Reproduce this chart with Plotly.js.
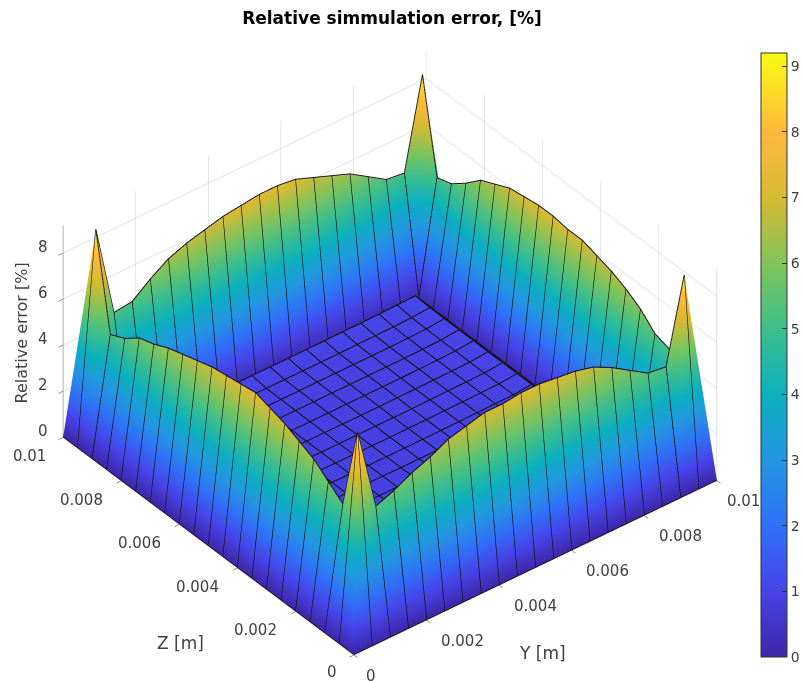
<!DOCTYPE html>
<html><head><meta charset="utf-8">
<script src="https://cdn.plot.ly/plotly-3.0.1.min.js"></script>
<style>html,body{margin:0;padding:0;background:#fff}#c{width:803px;height:681px}</style>
</head><body><div id="c"></div>
<script>
const gridY=[0,0.0005,0.001,0.0015,0.002,0.0025,0.003,0.0035,0.004,0.0045,0.005,0.0055,0.006,0.0065,0.007,0.0075,0.008,0.0085,0.009,0.0095,0.01];
const gridZ=gridY.slice();
const peakFront=8.8, peakRight=8.8, peakBack=9.0, peakLeft=9.1;
const ridgeFrontRight=[5.2,5.5,5.9,6.2,6.6,6.8,7.0,7.0,7.1,7.1,7.0,6.9,6.7,6.3,5.8,5.3,5.2];
const ridgeBackRight=[5.1,5.3,5.9,6.3,6.6,6.8,7.0,7.0,7.1,7.1,7.0,6.9,6.6,6.3,5.7,5.2,5.0];
const ridgeBackLeft=[5.1,5.2,5.7,6.2,6.5,6.8,7.1,7.2,7.2,7.1,7.0,6.8,6.6,6.3,5.8,5.2,5.1];
const ridgeFrontLeft=[5.0,5.3,5.8,6.0,6.3,6.5,6.7,6.9,7.0,7.1,7.2,7.0,6.8,6.5,6.2,5.7,5.2];
const creaseValue=0.15;
const floorValues=[
[1.10,1.08,1.06,1.05,1.05,1.04,1.04,1.04,1.04,1.04,1.05,1.05,1.06,1.08,1.30],
[1.06,1.00,0.98,0.97,0.97,0.96,0.96,0.96,0.96,0.96,0.97,0.97,0.98,1.00,1.10],
[1.05,0.98,0.96,0.95,0.95,0.95,0.95,0.95,0.95,0.95,0.95,0.95,0.96,0.98,1.06],
[1.04,0.97,0.95,0.94,0.94,0.94,0.94,0.94,0.94,0.94,0.94,0.94,0.95,0.97,1.05],
[1.04,0.97,0.95,0.94,0.93,0.93,0.93,0.93,0.93,0.93,0.93,0.94,0.95,0.97,1.04],
[1.03,0.96,0.95,0.94,0.93,0.93,0.92,0.92,0.92,0.93,0.93,0.94,0.95,0.96,1.03],
[1.03,0.96,0.95,0.94,0.93,0.92,0.92,0.92,0.92,0.92,0.93,0.94,0.95,0.96,1.03],
[1.03,0.96,0.95,0.94,0.93,0.92,0.92,0.91,0.92,0.92,0.93,0.94,0.95,0.96,1.03],
[1.03,0.96,0.95,0.94,0.93,0.92,0.92,0.92,0.92,0.92,0.93,0.94,0.95,0.96,1.03],
[1.03,0.96,0.95,0.94,0.93,0.93,0.92,0.92,0.92,0.93,0.93,0.94,0.95,0.96,1.03],
[1.04,0.97,0.95,0.94,0.93,0.93,0.93,0.93,0.93,0.93,0.93,0.94,0.95,0.97,1.04],
[1.04,0.97,0.95,0.94,0.94,0.94,0.94,0.94,0.94,0.94,0.94,0.94,0.95,0.97,1.04],
[1.05,0.98,0.96,0.95,0.95,0.95,0.95,0.95,0.95,0.95,0.95,0.95,0.96,0.98,1.05],
[1.06,1.00,0.98,0.97,0.97,0.96,0.96,0.96,0.96,0.96,0.97,0.97,0.98,1.00,1.06],
[1.25,1.08,1.06,1.05,1.05,1.04,1.04,1.04,1.04,1.04,1.05,1.05,1.06,1.08,1.10]];
const parula=[[0,'#3e26a8'],[0.109,'#4744e8'],[0.217,'#3070f8'],[0.326,'#2397e1'],[0.435,'#0cb0be'],[0.543,'#3cbe8c'],[0.652,'#82c35a'],[0.761,'#d7ba32'],[0.87,'#ffb93c'],[1,'#f9fb14']];
const zTicks=[0,2,4,6,8];
const barTicks=[0,1,2,3,4,5,6,7,8,9];
const planTicks=[0,0.002,0.004,0.006,0.008,0.01];
const planLabels=['0','0.002','0.004','0.006','0.008','0.01'];

const N=gridY.length;
const Zm=[];
for(let i=0;i<N;i++){Zm.push(new Array(N).fill(0));}
for(let i=2;i<N-2;i++)for(let j=2;j<N-2;j++)Zm[i][j]=creaseValue;
for(let i=0;i<floorValues.length;i++)for(let j=0;j<floorValues.length;j++)Zm[i+3][j+3]=floorValues[i][j];
for(let k=0;k<17;k++){
  Zm[1][k+2]=ridgeFrontRight[k];
  Zm[k+2][N-2]=ridgeBackRight[k];
  Zm[N-2][N-3-k]=ridgeBackLeft[k];
  Zm[N-3-k][1]=ridgeFrontLeft[k];
}
Zm[1][1]=peakFront;Zm[1][N-2]=peakRight;Zm[N-2][N-2]=peakBack;Zm[N-2][1]=peakLeft;

const vx=[],vy=[],vz=[],ti=[],tj=[],tk=[];
for(let i=0;i<N;i++)for(let j=0;j<N;j++){vx.push(gridY[j]);vy.push(gridZ[i]);vz.push(Zm[i][j]);}
const id=(i,j)=>i*N+j;
for(let i=0;i<N-1;i++)for(let j=0;j<N-1;j++){
  const a=id(i,j),b=id(i,j+1),c=id(i+1,j+1),d=id(i+1,j);
  const top=Math.max(vz[a],vz[b],vz[c],vz[d]);
  if(vz[a]===top||vz[c]===top){ti.push(a,a);tj.push(b,c);tk.push(c,d);}
  else{ti.push(b,b);tj.push(c,d);tk.push(d,a);}
}
const surf={type:'mesh3d',x:vx,y:vy,z:vz,i:ti,j:tj,k:tk,intensity:vz,colorscale:parula,cmin:0,cmax:9.2,showscale:true,hoverinfo:'skip',
  lighting:{ambient:1,diffuse:0,specular:0,roughness:1,fresnel:0},
  colorbar:{thickness:26,thicknessmode:'pixels',len:604,lenmode:'pixels',x:761/803,xanchor:'left',xpad:0,y:1-53/681,yanchor:'top',ypad:0,
    tickvals:barTicks,ticks:'inside',ticklen:5,tickcolor:'#333',tickfont:{size:14,color:'#404040',family:'"DejaVu Sans",sans-serif'},
    outlinecolor:'#333',outlinewidth:1,borderwidth:0}};
const lx=[],ly=[],lz=[];
function add(x,y,z){lx.push(x);ly.push(y);lz.push(z==null?null:z+0.03);}
for(let i=0;i<N;i++){
  for(let j=0;j<N;j++)add(gridY[j],gridZ[i],Zm[i][j]);
  add(null,null,null);
  for(let j=0;j<N;j++)add(gridY[i],gridZ[j],Zm[j][i]);
  add(null,null,null);
}
const mesh={type:'scatter3d',mode:'lines',x:lx,y:ly,z:lz,line:{color:'#111',width:2},hoverinfo:'skip',showlegend:false,connectgaps:false};
const font='"DejaVu Sans",sans-serif';
const L=0.01;
const ax=(extra)=>Object.assign({title:{text:''},showticklabels:false,showbackground:false,showgrid:true,gridcolor:'#c8c8c8',gridwidth:1,
  showline:true,linecolor:'#333',linewidth:1,ticks:'outside',ticklen:6,tickcolor:'#333',zeroline:false,showspikes:false},extra);
const note=(x,y,z,text,dx,dy,size,angle)=>({x,y,z,text,showarrow:false,xshift:dx,yshift:-dy,textangle:angle||0,xanchor:'center',yanchor:'middle',font:{size,color:'#404040',family:font}});
const notes=[];
planTicks.forEach((t,i)=>{
  notes.push(note(0,t,0,planLabels[i],i===5?-34:(i===0?-22:-40),i===0?17:19,15));
  notes.push(note(t,0,0,planLabels[i],i===5?27:(i===0?17:36),21,15));
});
zTicks.forEach(t=>notes.push(note(0,L,t,String(t),-20,-6,15)));
notes.push(note(0,L/2,0,'Z [m]',-28,97,17));
notes.push(note(L/2,0,0,'Y [m]',7,86,17));
notes.push(note(0,L,4.2,'Relative error [%]',-42,-7,16,-90));
const layout={width:803,height:681,margin:{l:0,r:0,t:0,b:0,autoexpand:false},paper_bgcolor:'#fff',showlegend:false,
  title:{text:'<b>Relative simmulation error, [%]</b>',x:392/803,xanchor:'center',y:1-18/681,yanchor:'middle',font:{size:17,color:'#000',family:font}},
  scene:{domain:{x:[0,780/803],y:[0.008,0.956]},aspectmode:'manual',aspectratio:{x:1.44,y:1.44,z:0.82},
    camera:{eye:{x:-0.705,y:-0.88,z:0.845},center:{x:0,y:0,z:0},up:{x:0,y:0,z:1},projection:{type:'orthographic'}},
    xaxis:ax({range:[0,L],tickvals:planTicks}),
    yaxis:ax({range:[0,L],tickvals:planTicks}),
    zaxis:ax({range:[0,9.2],tickvals:zTicks}),
    annotations:notes}};
Plotly.newPlot('c',[surf,mesh],layout,{displayModeBar:false});
</script></body></html>
